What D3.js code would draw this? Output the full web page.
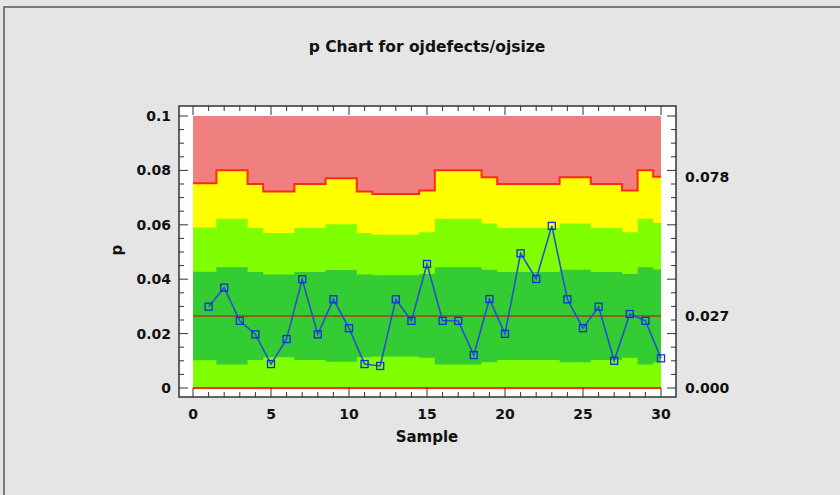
<!DOCTYPE html>
<html>
<head>
<meta charset="utf-8">
<script src="https://cdn.jsdelivr.net/npm/d3@7"></script>
<style>
  html, body { margin: 0; padding: 0; background: #e5e5e5; }
  svg { display: block; }
  text { font-family: "DejaVu Sans", Verdana, sans-serif; font-weight: bold; fill: #111; }
</style>
</head>
<body>
<div id="chart"></div>
<script>
// Variables
var width = 840;
var height = 495;

// data
var samples = [1, 2, 3, 4, 5, 6, 7, 8, 9, 10, 11, 12, 13, 14, 15,
               16, 17, 18, 19, 20, 21, 22, 23, 24, 25, 26, 27, 28, 29, 30];
var pValues = [0.0299, 0.0369, 0.0247, 0.0197, 0.0088, 0.0180, 0.0400, 0.0197, 0.0326, 0.0220,
               0.0088, 0.0081, 0.0326, 0.0247, 0.0456, 0.0247, 0.0247, 0.0121, 0.0327, 0.0199,
               0.0495, 0.0401, 0.0596, 0.0326, 0.0220, 0.0299, 0.0100, 0.0272, 0.0247, 0.0109];
var uclValues = [0.0753, 0.0801, 0.0801, 0.0750, 0.0722, 0.0722, 0.0750, 0.0750, 0.0771, 0.0771,
                 0.0722, 0.0713, 0.0713, 0.0713, 0.0726, 0.0801, 0.0801, 0.0801, 0.0775, 0.0750,
                 0.0750, 0.0750, 0.0750, 0.0775, 0.0775, 0.0750, 0.0750, 0.0726, 0.0801, 0.0777];
var centerLine = 0.0265;
var lclValue = 0;

var xTicks = [0, 5, 10, 15, 20, 25, 30];
var yTicks = [0, 0.02, 0.04, 0.06, 0.08, 0.1];
var yTickLabels = ['0', '0.02', '0.04', '0.06', '0.08', '0.1'];
var rightValues = [0.0777, 0.0265, 0];
var rightLabels = ['0.078', '0.027', '0.000'];

var svg = d3.select('#chart').append('svg')
    .attr('width', width)
    .attr('height', height);

// outer panel border (only top and left show)
svg.append('rect')
    .attr('x', 4).attr('y', 7)
    .attr('width', width + 10).attr('height', height + 10)
    .attr('fill', '#e5e5e5')
    .attr('stroke', '#7a7a7a')
    .attr('stroke-width', 2);

var x = d3.scaleLinear().domain([0, 30]).range([193, 661]);
var y = d3.scaleLinear().domain([0, 0.1]).range([388, 116]);

// white frame round the plot
var frame = { left: 179, right: 676, top: 106, bottom: 397 };
svg.append('rect')
    .attr('x', frame.left).attr('y', frame.top)
    .attr('width', frame.right - frame.left)
    .attr('height', frame.bottom - frame.top)
    .attr('fill', '#fff')
    .attr('stroke', '#333')
    .attr('stroke-width', 1.5);

// one step segment per sample, first and last stretched to the axis ends
function steps(values) {
  var pts = [];
  var last = samples.length - 1;
  samples.forEach(function(s, i) {
    var x0 = i === 0 ? 0 : s - 0.5;
    var x1 = i === last ? 30 : s + 0.5;
    pts.push({ x: x0, v: values[i] });
    pts.push({ x: x1, v: values[i] });
  });
  return pts;
}

// zone edges from each sample's sigma
var sigma = uclValues.map(function(u) { return (u - centerLine) / 3; });
var upper2 = sigma.map(function(s) { return centerLine + 2 * s; });
var upper1 = sigma.map(function(s) { return centerLine + s; });
var lower1 = sigma.map(function(s) { return Math.max(0, centerLine - s); });

var area = d3.area()
    .x(function(d) { return x(d.x); })
    .y0(function(d) { return y(d.lo); })
    .y1(function(d) { return y(d.v); });

function band(top, bottom, fill) {
  var pts = steps(top);
  var lo = steps(bottom);
  pts.forEach(function(p, i) { p.lo = lo[i].v; });
  svg.append('path').attr('d', area(pts)).attr('fill', fill);
}

// red zone is the background up to 0.1
svg.append('rect')
    .attr('x', x(0)).attr('y', y(0.1))
    .attr('width', x(30) - x(0)).attr('height', y(0) - y(0.1))
    .attr('fill', '#f08080');

var zeros = samples.map(function() { return 0; });
band(uclValues, zeros, '#ffff00');
band(upper2, zeros, '#80ff00');
band(upper1, lower1, '#33cc33');

// control limits
var line = d3.line()
    .x(function(d) { return x(d.x); })
    .y(function(d) { return y(d.v); });

svg.append('path')
    .attr('d', line(steps(uclValues)))
    .attr('fill', 'none')
    .attr('stroke', '#ff2a10')
    .attr('stroke-width', 2);

svg.append('line')
    .attr('x1', x(0)).attr('x2', x(30))
    .attr('y1', y(lclValue)).attr('y2', y(lclValue))
    .attr('stroke', '#ff2a10')
    .attr('stroke-width', 2);

svg.append('line')
    .attr('x1', x(0)).attr('x2', x(30))
    .attr('y1', y(centerLine)).attr('y2', y(centerLine))
    .attr('stroke', '#a8401c')
    .attr('stroke-width', 1.5);

// ticks on all four sides, pointing in from the frame
function tickLen(major) { return major ? 9 : 5; }
var xMinor = d3.range(0, 31);
xMinor.forEach(function(v) {
  var major = v % 5 === 0;
  svg.append('line')
      .attr('x1', x(v)).attr('x2', x(v))
      .attr('y1', frame.bottom).attr('y2', frame.bottom - tickLen(major))
      .attr('stroke', '#333');
  svg.append('line')
      .attr('x1', x(v)).attr('x2', x(v))
      .attr('y1', frame.top).attr('y2', frame.top + tickLen(major))
      .attr('stroke', '#333');
});
var yMinor = d3.range(0, 21).map(function(i) { return i * 0.005; });
yMinor.forEach(function(v, i) {
  var major = i % 4 === 0;
  svg.append('line')
      .attr('x1', frame.left).attr('x2', frame.left + tickLen(major))
      .attr('y1', y(v)).attr('y2', y(v))
      .attr('stroke', '#333');
  svg.append('line')
      .attr('x1', frame.right).attr('x2', frame.right - tickLen(major))
      .attr('y1', y(v)).attr('y2', y(v))
      .attr('stroke', '#333');
});

// data
svg.append('path')
    .datum(pValues)
    .attr('d', d3.line()
        .x(function(d, i) { return x(samples[i]); })
        .y(function(d) { return y(d); }))
    .attr('fill', 'none')
    .attr('stroke', '#2b4fd0')
    .attr('stroke-width', 1.6);

svg.selectAll('rect.pt')
    .data(pValues)
    .enter().append('rect')
    .attr('class', 'pt')
    .attr('x', function(d, i) { return x(samples[i]) - 3.5; })
    .attr('y', function(d) { return y(d) - 3.5; })
    .attr('width', 7).attr('height', 7)
    .attr('fill', 'none')
    .attr('stroke', '#1030e0')
    .attr('stroke-width', 1.3);

// labels
svg.selectAll('text.ytick')
    .data(yTicks)
    .enter().append('text')
    .attr('class', 'ytick')
    .attr('x', 171)
    .attr('y', function(d) { return y(d) + 5; })
    .attr('text-anchor', 'end')
    .attr('font-size', 14)
    .text(function(d, i) { return yTickLabels[i]; });

svg.selectAll('text.xtick')
    .data(xTicks)
    .enter().append('text')
    .attr('class', 'xtick')
    .attr('x', function(d) { return x(d); })
    .attr('y', 419)
    .attr('text-anchor', 'middle')
    .attr('font-size', 14)
    .text(function(d) { return d; });

svg.selectAll('text.rlab')
    .data(rightValues)
    .enter().append('text')
    .attr('class', 'rlab')
    .attr('x', 685)
    .attr('y', function(d) { return y(d) + 5; })
    .attr('font-size', 14)
    .text(function(d, i) { return rightLabels[i]; });

svg.append('text')
    .attr('x', 427).attr('y', 52)
    .attr('text-anchor', 'middle')
    .attr('font-size', 15.5)
    .text('p Chart for ojdefects/ojsize');

svg.append('text')
    .attr('x', 427).attr('y', 442)
    .attr('text-anchor', 'middle')
    .attr('font-size', 15)
    .text('Sample');

svg.append('text')
    .attr('transform', 'translate(122,250)rotate(-90)')
    .attr('text-anchor', 'middle')
    .attr('font-size', 15)
    .text('p');
</script>
</body>
</html>
